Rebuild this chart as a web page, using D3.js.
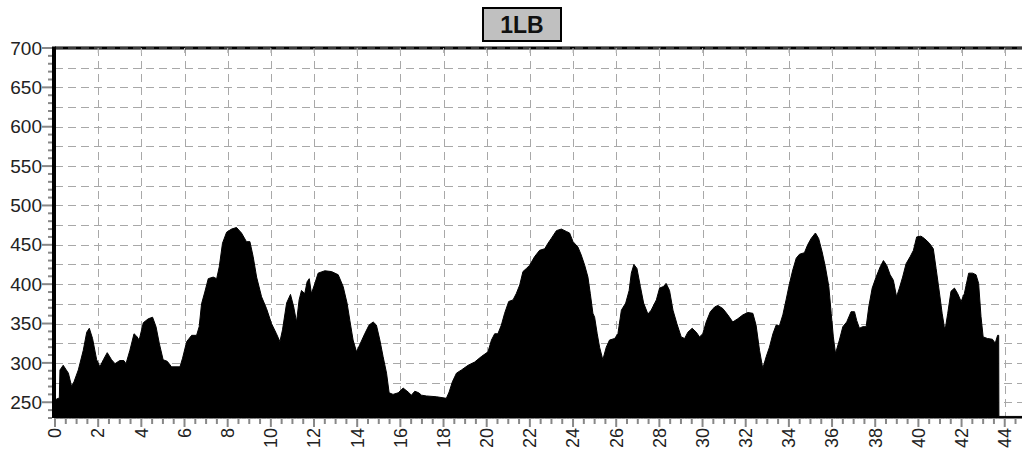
<!DOCTYPE html>
<html>
<head>
<meta charset="utf-8">
<script src="https://cdn.jsdelivr.net/npm/d3@7"></script>
<style>
  html, body { margin: 0; padding: 0; background: #ffffff; }
  svg { display: block; }
</style>
</head>
<body>
<div id="chart"></div>
<script>
const title = "1LB";

const distance = [
  0, 0.15, 0.2, 0.23, 0.38, 0.5, 0.62, 0.77, 0.88, 1.08, 1.31, 1.47, 1.59, 1.74, 1.93,
  2.08, 2.24, 2.42, 2.62, 2.78, 3.0, 3.19, 3.29, 3.47, 3.66, 3.78, 3.9, 4.09, 4.32, 4.52,
  4.68, 4.83, 5.01, 5.2, 5.4, 5.79, 5.91, 6.1, 6.33, 6.56, 6.68, 6.79, 6.94, 7.1, 7.33,
  7.49, 7.61, 7.76, 7.95, 8.18, 8.41, 8.64, 8.87, 9.03, 9.18, 9.34, 9.57, 9.8, 10.03, 10.26,
  10.42, 10.54, 10.73, 10.91, 11.06, 11.19, 11.31, 11.42, 11.57, 11.68, 11.78, 11.88, 12.04, 12.19, 12.5,
  12.81, 13.12, 13.35, 13.53, 13.66, 13.81, 13.97, 14.15, 14.35, 14.55, 14.74, 14.89, 15.05, 15.2, 15.36,
  15.48, 15.66, 15.9, 16.13, 16.36, 16.51, 16.67, 16.85, 16.98, 17.21, 17.67, 18.13, 18.26, 18.41, 18.6,
  18.83, 19.14, 19.44, 19.75, 20.06, 20.22, 20.37, 20.52, 20.68, 20.83, 21.02, 21.22, 21.37, 21.53, 21.68,
  21.84, 21.99, 22.22, 22.45, 22.69, 22.84, 22.99, 23.23, 23.46, 23.69, 23.84, 24.0, 24.23, 24.38, 24.54,
  24.69, 24.8, 24.92, 25.0, 25.12, 25.23, 25.38, 25.54, 25.69, 25.93, 26.08, 26.24, 26.44, 26.6, 26.7,
  26.82, 26.96, 27.12, 27.27, 27.47, 27.62, 27.86, 28.01, 28.19, 28.31, 28.47, 28.63, 28.81, 29.01, 29.17,
  29.32, 29.52, 29.71, 29.86, 30.01, 30.17, 30.36, 30.56, 30.71, 30.94, 31.17, 31.4, 31.63, 31.87, 32.1,
  32.33, 32.48, 32.64, 32.79, 32.95, 33.1, 33.26, 33.41, 33.56, 33.72, 33.87, 34.03, 34.18, 34.34, 34.49,
  34.72, 34.87, 35.03, 35.23, 35.38, 35.54, 35.69, 35.85, 35.96, 36.06, 36.16, 36.34, 36.5, 36.68, 36.88,
  37.04, 37.14, 37.27, 37.42, 37.58, 37.7, 37.86, 38.04, 38.23, 38.38, 38.53, 38.69, 38.84, 38.99, 39.12,
  39.27, 39.43, 39.62, 39.77, 39.92, 40.12, 40.28, 40.51, 40.69, 40.82, 40.97, 41.1, 41.2, 41.25, 41.36,
  41.51, 41.67, 41.82, 41.98, 42.13, 42.33, 42.51, 42.67, 42.79, 42.9, 43.0, 43.2, 43.43, 43.56, 43.67,
  43.72, 43.73, 44.8
];

const value = [
  253, 255, 255, 291, 297, 292, 287, 270, 276, 291, 316, 339, 344, 331, 304,
  295, 304, 313, 304, 299, 303, 303, 299, 316, 337, 334, 329, 351, 356, 358,
  346, 325, 304, 302, 295, 295, 306, 327, 335, 335, 346, 375, 390, 407, 409,
  407, 422, 452, 466, 470, 472, 465, 454, 454, 435, 409, 384, 369, 350, 337,
  327, 342, 376, 387, 371, 352, 380, 392, 388, 403, 407, 388, 401, 414, 417,
  416, 412, 397, 376, 354, 329, 314, 325, 337, 348, 352, 348, 329, 308, 287,
  262, 260, 262, 268, 263, 259, 264, 262, 259, 258, 257, 255, 263, 276, 287,
  291, 297, 301, 308, 314, 329, 337, 337, 348, 363, 378, 380, 388, 399, 416,
  420, 424, 435, 443, 445, 452, 458, 468, 470, 467, 465, 454, 447, 437, 424,
  409, 388, 363, 358, 337, 320, 304, 320, 329, 331, 337, 367, 376, 392, 414,
  425, 420, 397, 376, 362, 367, 380, 395, 397, 401, 392, 367, 350, 333, 331,
  339, 344, 339, 333, 337, 352, 365, 371, 373, 369, 361, 352, 356, 361, 364,
  363, 348, 316, 293, 308, 320, 337, 348, 347, 361, 380, 401, 418, 433, 438,
  440, 450, 458, 465, 458, 441, 422, 397, 363, 333, 312, 329, 346, 352, 365,
  365, 354, 344, 346, 346, 371, 395, 409, 422, 430, 424, 412, 405, 384, 395,
  409, 426, 435, 443, 460, 461, 458, 452, 445, 420, 390, 363, 346, 344, 363,
  391, 395, 388, 378, 388, 414, 414, 412, 401, 359, 333, 331, 330, 325, 335,
  335, 232, 232
];

const yTicks = [250, 300, 350, 400, 450, 500, 550, 600, 650, 700];
const xTicks = d3.range(0, 45, 2);

const width = 1022;
const height = 450;
const plot = { left: 55, right: 1022, top: 48, bottom: 418 };

const x = d3.scaleLinear().domain([0, 44.8]).range([plot.left, plot.right]);
const y = d3.scaleLinear().domain([230, 700]).range([plot.bottom, plot.top]);

const svg = d3.select("#chart").append("svg")
  .attr("width", width)
  .attr("height", height)
  .style("font-family", "Arial, 'Liberation Sans', sans-serif");

// grid
const grid = svg.append("g").attr("stroke", "#a8a8a8").attr("stroke-width", 1)
  .attr("stroke-dasharray", "8 5");

d3.range(250, 701, 25).forEach((v) => {
  grid.append("line")
    .attr("x1", plot.left).attr("x2", plot.right)
    .attr("y1", Math.round(y(v)) + 0.5).attr("y2", Math.round(y(v)) + 0.5);
});

xTicks.forEach((v) => {
  grid.append("line")
    .attr("x1", Math.round(x(v)) + 0.5).attr("x2", Math.round(x(v)) + 0.5)
    .attr("y1", plot.top).attr("y2", plot.bottom);
});

// top border
svg.append("line")
  .attr("x1", plot.left).attr("x2", plot.right)
  .attr("y1", plot.top).attr("y2", plot.top)
  .attr("stroke", "#000").attr("stroke-width", 3);

svg.append("line")
  .attr("x1", plot.left).attr("x2", plot.right)
  .attr("y1", plot.top).attr("y2", plot.top)
  .attr("stroke", "#777").attr("stroke-width", 1)
  .attr("stroke-dasharray", "8 5");

xTicks.forEach((v) => {
  svg.append("line")
    .attr("x1", x(v)).attr("x2", x(v))
    .attr("y1", plot.top).attr("y2", plot.top + 5)
    .attr("stroke", "#bbb").attr("stroke-width", 1);
});

// profile area
const points = distance.map((d, i) => [d, value[i]]);
const area = d3.area()
  .x((d) => x(d[0]))
  .y0(plot.bottom)
  .y1((d) => y(d[1]))
  .curve(d3.curveLinear);

svg.append("path")
  .datum(points)
  .attr("d", area)
  .attr("fill", "#000")
  .attr("stroke", "#000")
  .attr("stroke-width", 1);

// left axis
svg.append("line")
  .attr("x1", plot.left - 1).attr("x2", plot.left - 1)
  .attr("y1", plot.top - 1.5).attr("y2", plot.bottom)
  .attr("stroke", "#000").attr("stroke-width", 4);

const yAxis = svg.append("g");
d3.range(230, 701, 10).forEach((v) => {
  const major = v % 50 === 0;
  yAxis.append("line")
    .attr("x1", major ? plot.left - 13 : plot.left - 7).attr("x2", plot.left - 3)
    .attr("y1", y(v)).attr("y2", y(v))
    .attr("stroke", "#888").attr("stroke-width", 2);
});
yTicks.forEach((v) => {
  yAxis.append("text")
    .attr("x", plot.left - 13)
    .attr("y", y(v))
    .attr("dy", "0.35em")
    .attr("text-anchor", "end")
    .attr("font-size", 19)
    .attr("fill", "#222")
    .text(v);
});

// bottom axis
const xAxis = svg.append("g");
d3.range(0, 44.9, 0.5).forEach((v) => {
  const major = Math.abs(v % 2) < 1e-9;
  xAxis.append("line")
    .attr("x1", x(v)).attr("x2", x(v))
    .attr("y1", plot.bottom).attr("y2", plot.bottom + (major ? 9 : 6))
    .attr("stroke", "#888").attr("stroke-width", 2);
});
xTicks.forEach((v) => {
  xAxis.append("text")
    .attr("transform", `translate(${x(v)},${plot.bottom + 10}) rotate(-90)`)
    .attr("dy", "0.35em")
    .attr("text-anchor", "end")
    .attr("font-size", 18)
    .attr("fill", "#222")
    .text(v);
});

// title box
const titleG = svg.append("g").attr("transform", `translate(${(plot.left + 990) / 2 - 0.5},24)`);
titleG.append("rect")
  .attr("x", -39).attr("y", -16)
  .attr("width", 78).attr("height", 33)
  .attr("fill", "#c0c0c0")
  .attr("stroke", "#000")
  .attr("stroke-width", 2);
titleG.append("text")
  .attr("y", 1)
  .attr("dy", "0.35em")
  .attr("text-anchor", "middle")
  .attr("font-size", 23)
  .attr("font-weight", "bold")
  .attr("fill", "#111")
  .text(title);
</script>
</body>
</html>
